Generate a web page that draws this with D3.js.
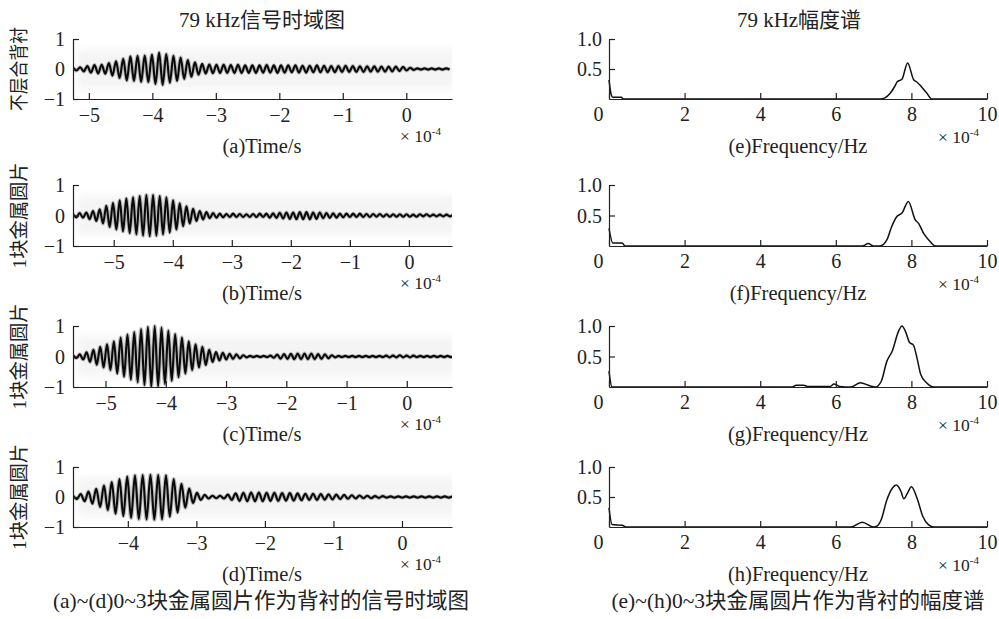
<!DOCTYPE html>
<html>
<head>
<meta charset="utf-8">
<script src="https://cdnjs.cloudflare.com/ajax/libs/d3/7.8.5/d3.min.js"></script>
<style>
  body { margin: 0; background: #fff; }
  svg text { font-family: "Liberation Serif", "Times New Roman", "Noto Sans CJK SC", serif; fill: #222; }
</style>
</head>
<body>
<div id="chart"></div>
<script>
// ---- data ----
// time signals: magnitude of each successive half-cycle extremum, in volts (normalised)
const halfStep = 0.0565 // spacing of extrema, in 1e-4 s

const startA = -5.25
const peaksA = [
  0.04, 0.05, 0.06, 0.08, 0.1, 0.12, 0.13, 0.15, 0.14, 0.16,
  0.2, 0.22, 0.26, 0.3, 0.34, 0.38, 0.42, 0.4, 0.44, 0.43,
  0.45, 0.44, 0.48, 0.5, 0.55, 0.53, 0.5, 0.46, 0.44, 0.4,
  0.38, 0.33, 0.3, 0.26, 0.22, 0.19, 0.17, 0.15, 0.15, 0.14,
  0.14, 0.13, 0.14, 0.13, 0.13, 0.13, 0.14, 0.13, 0.12, 0.13,
  0.12, 0.13, 0.12, 0.12, 0.13, 0.12, 0.12, 0.13, 0.12, 0.12,
  0.12, 0.11, 0.12, 0.12, 0.11, 0.12, 0.11, 0.11, 0.12, 0.11,
  0.11, 0.11, 0.1, 0.11, 0.1, 0.1, 0.11, 0.1, 0.1, 0.1,
  0.09, 0.1, 0.09, 0.09, 0.09, 0.09, 0.08, 0.09, 0.08, 0.08,
  0.08, 0.07, 0.07, 0.05, 0.04, 0.03, 0.02, 0.02, 0.02, 0.02,
  0.02, 0.02, 0.02, 0.02, 0.02, 0.02
]

const startB = -5.69
const peaksB = [
  0.05, 0.06, 0.08, 0.07, 0.1, 0.12, 0.15, 0.18, 0.2, 0.26,
  0.32, 0.38, 0.42, 0.46, 0.5, 0.52, 0.56, 0.58, 0.6, 0.62,
  0.64, 0.66, 0.67, 0.68, 0.67, 0.66, 0.64, 0.62, 0.6, 0.56,
  0.5, 0.46, 0.4, 0.35, 0.3, 0.26, 0.22, 0.18, 0.15, 0.13,
  0.11, 0.09, 0.08, 0.07, 0.06, 0.06, 0.05, 0.05, 0.06, 0.05,
  0.05, 0.05, 0.04, 0.05, 0.05, 0.05, 0.06, 0.05, 0.06, 0.07,
  0.07, 0.08, 0.09, 0.1, 0.1, 0.11, 0.1, 0.12, 0.11, 0.12,
  0.11, 0.12, 0.1, 0.11, 0.1, 0.09, 0.08, 0.08, 0.07, 0.07,
  0.06, 0.06, 0.06, 0.05, 0.06, 0.05, 0.06, 0.05, 0.05, 0.05,
  0.05, 0.04, 0.05, 0.04, 0.04, 0.04, 0.04, 0.04, 0.04, 0.04,
  0.04, 0.04, 0.03, 0.04, 0.04, 0.03, 0.04, 0.03, 0.03, 0.03,
  0.03, 0.03, 0.03, 0.03, 0.03
]

const startC = -5.54
const peaksC = [
  0.04, 0.05, 0.07, 0.1, 0.14, 0.18, 0.22, 0.27, 0.32, 0.36,
  0.4, 0.45, 0.5, 0.56, 0.62, 0.66, 0.72, 0.76, 0.8, 0.85,
  0.9, 0.94, 0.97, 0.99, 1.0, 0.98, 0.95, 0.9, 0.85, 0.8,
  0.74, 0.68, 0.62, 0.56, 0.5, 0.45, 0.4, 0.36, 0.32, 0.28,
  0.22, 0.18, 0.15, 0.13, 0.12, 0.1, 0.09, 0.08, 0.07, 0.06,
  0.04, 0.03, 0.02, 0.02, 0.02, 0.02, 0.02, 0.02, 0.03, 0.04,
  0.06, 0.07, 0.08, 0.08, 0.09, 0.09, 0.1, 0.09, 0.1, 0.09,
  0.1, 0.09, 0.08, 0.08, 0.07, 0.06, 0.04, 0.03, 0.02, 0.02,
  0.02, 0.02, 0.02, 0.02, 0.02, 0.02, 0.02, 0.02, 0.02, 0.02,
  0.02, 0.02, 0.03, 0.03, 0.03, 0.03, 0.04, 0.03, 0.03, 0.03,
  0.03, 0.02, 0.02, 0.02, 0.02, 0.02, 0.02, 0.02, 0.02, 0.02,
  0.02, 0.02, 0.02
]

const startD = -4.8
const peaksD = [
  0.05, 0.07, 0.1, 0.14, 0.18, 0.22, 0.27, 0.33, 0.38, 0.44,
  0.5, 0.56, 0.6, 0.64, 0.68, 0.7, 0.72, 0.74, 0.73, 0.75,
  0.74, 0.76, 0.73, 0.75, 0.72, 0.66, 0.6, 0.52, 0.44, 0.36,
  0.28, 0.2, 0.14, 0.1, 0.07, 0.05, 0.04, 0.04, 0.04, 0.05,
  0.08, 0.1, 0.12, 0.13, 0.14, 0.14, 0.15, 0.14, 0.15, 0.14,
  0.14, 0.13, 0.14, 0.13, 0.13, 0.12, 0.13, 0.12, 0.12, 0.11,
  0.11, 0.1, 0.11, 0.1, 0.1, 0.09, 0.09, 0.08, 0.08, 0.07,
  0.07, 0.06, 0.06, 0.05, 0.05, 0.04, 0.04, 0.04, 0.03, 0.03,
  0.03, 0.02, 0.02, 0.02, 0.02, 0.02, 0.02, 0.02, 0.02, 0.02,
  0.02, 0.02, 0.02, 0.02, 0.02, 0.02, 0.02, 0.02, 0.02
]

// amplitude spectra
const freqE = [0, 0.06, 0.1, 0.33, 0.37, 7.17, 7.3, 7.44, 7.55, 7.63, 7.75, 7.9, 8.06, 8.15, 8.23, 8.41, 8.54, 10]
const ampE = [0.32, 0.07, 0.03, 0.03, 0, 0, 0.02, 0.095, 0.2, 0.29, 0.33, 0.6, 0.32, 0.28, 0.23, 0.095, 0, 0]

const freqF = [0, 0.1, 0.35, 0.42, 6.7, 6.86, 7.0, 7.17, 7.35, 7.48, 7.61, 7.75, 7.92, 8.1, 8.19, 8.32, 8.5, 8.63, 10]
const ampF = [0.29, 0.05, 0.05, 0, 0, 0.04, 0, 0, 0.1, 0.32, 0.48, 0.54, 0.73, 0.43, 0.37, 0.21, 0.07, 0, 0]

const freqG = [0, 0.08, 4.85, 4.95, 5.15, 5.25, 5.85, 5.95, 6.1, 6.4, 6.65, 6.9, 7.05, 7.2, 7.35, 7.5, 7.65, 7.75, 7.85, 7.95, 8.05, 8.15, 8.25, 8.4, 8.6, 10]
const ampG = [0.26, 0, 0, 0.03, 0.03, 0.01, 0.01, 0.05, 0.01, 0, 0.07, 0.02, 0, 0.09, 0.42, 0.6, 0.9, 1.0, 0.9, 0.73, 0.69, 0.47, 0.2, 0.07, 0, 0]

const freqH = [0, 0.08, 0.35, 0.45, 6.4, 6.7, 7.0, 7.1, 7.2, 7.35, 7.5, 7.6, 7.72, 7.8, 7.9, 8.0, 8.15, 8.3, 8.45, 8.6, 10]
const ampH = [0.32, 0.04, 0.03, 0, 0, 0.08, 0, 0.02, 0.12, 0.45, 0.65, 0.7, 0.6, 0.47, 0.57, 0.67, 0.48, 0.18, 0.04, 0, 0]

// labels
const rowLabels = ['不层合背衬', '1块金属圆片', '1块金属圆片', '1块金属圆片']
const timeLabels = ['(a)Time/s', '(b)Time/s', '(c)Time/s', '(d)Time/s']
const freqLabels = ['(e)Frequency/Hz', '(f)Frequency/Hz', '(g)Frequency/Hz', '(h)Frequency/Hz']
const timeDomains = [[-5.25, 0.72], [-5.69, 0.73], [-5.54, 0.75], [-4.8, 0.73]]
const timeTicks = [[-5, -4, -3, -2, -1, 0], [-5, -4, -3, -2, -1, 0], [-5, -4, -3, -2, -1, 0], [-4, -3, -2, -1, 0]]
const freqTicks = [0, 2, 4, 6, 8, 10]

// ---- layout ----
const width = 999
const height = 619
const leftX = [73, 452]
const rightX = [609, 987]
const rowTop = [39, 185, 326, 467]
const rowBottom = [99, 246, 387, 527]

const svg = d3
  .select('#chart')
  .append('svg')
  .attr('width', width)
  .attr('height', height)

const defs = svg.append('defs')
defs
  .append('filter')
  .attr('id', 'soft')
  .attr('x', '-10%')
  .attr('y', '-50%')
  .attr('width', '120%')
  .attr('height', '200%')
  .append('feGaussianBlur')
  .attr('stdDeviation', 4)

const fmtMinus = d => (d < 0 ? '\u2212' + Math.abs(d) : String(d))

function drawTimePanel(i, start, peaks) {
  const top = rowTop[i]
  const bottom = rowBottom[i]
  const x = d3.scaleLinear().domain(timeDomains[i]).range(leftX)
  const y = d3.scaleLinear().domain([-1, 1]).range([bottom, top])

  defs
    .append('clipPath')
    .attr('id', 'clipT' + i)
    .append('rect')
    .attr('x', leftX[0])
    .attr('y', top - 4)
    .attr('width', leftX[1] - leftX[0])
    .attr('height', bottom - top + 4)

  const g = svg.append('g').attr('clip-path', 'url(#clipT' + i + ')')

  // faint scan smudge behind the trace
  g.append('rect')
    .attr('x', leftX[0] + 4)
    .attr('width', leftX[1] - leftX[0])
    .attr('y', y(0.65))
    .attr('height', y(-0.65) - y(0.65))
    .attr('fill', '#f4f4f4')
    .attr('filter', 'url(#soft)')

  const pts = peaks.map((a, k) => [start + k * halfStep, k % 2 === 0 ? a : -a])
  const line = d3
    .line()
    .x(d => x(d[0]))
    .y(d => y(d[1]))
    .curve(d3.curveMonotoneX)

  g.append('path')
    .datum(pts)
    .attr('d', line)
    .attr('fill', 'none')
    .attr('stroke', '#666')
    .attr('stroke-width', 4)
    .attr('stroke-opacity', 0.4)

  g.append('path')
    .datum(pts)
    .attr('d', line)
    .attr('fill', 'none')
    .attr('stroke', '#0a0a0a')
    .attr('stroke-width', 2.1)

  // axes
  const xAxis = d3.axisBottom(x).tickValues(timeTicks[i]).tickSizeInner(-6).tickSizeOuter(0).tickFormat(fmtMinus)
  svg
    .append('g')
    .attr('class', 'axis')
    .attr('transform', 'translate(0,' + bottom + ')')
    .call(xAxis)
    .call(ax => ax.selectAll('.tick text').attr('y', 23).attr('dy', null))

  const yAxis = d3.axisLeft(y).tickValues([-1, 0, 1]).tickSizeInner(-6).tickSizeOuter(0).tickFormat(fmtMinus)
  svg
    .append('g')
    .attr('class', 'axis')
    .attr('transform', 'translate(' + leftX[0] + ',0)')
    .call(yAxis)
    .call(ax => ax.selectAll('.tick text').attr('x', -8).attr('dy', '0.34em'))

  addExponent(400, bottom + 43)

  svg
    .append('text')
    .attr('x', 262)
    .attr('y', bottom + 54)
    .attr('text-anchor', 'middle')
    .attr('font-size', 20.5)
    .text(timeLabels[i])

  svg
    .append('text')
    .attr('transform', 'translate(26,' + (top + bottom) / 2 + ') rotate(-90)')
    .attr('text-anchor', 'middle')
    .attr('font-size', 19)
    .attr('textLength', i === 0 ? 84 : 106)
    .attr('lengthAdjust', 'spacingAndGlyphs')
    .text(rowLabels[i])
}

function drawFreqPanel(i, freqs, amps) {
  const top = rowTop[i]
  const bottom = rowBottom[i]
  const x = d3.scaleLinear().domain([0, 10]).range(rightX)
  const y = d3.scaleLinear().domain([0, 1]).range([bottom, top])

  const line = d3
    .line()
    .x(d => x(d[0]))
    .y(d => y(d[1]))
    .curve(d3.curveMonotoneX)

  svg
    .append('path')
    .datum(freqs.map((f, k) => [f, amps[k]]))
    .attr('d', line)
    .attr('fill', 'none')
    .attr('stroke', '#111')
    .attr('stroke-width', 1.5)

  const xAxis = d3.axisBottom(x).tickValues(freqTicks).tickSizeInner(-6).tickSizeOuter(0)
  svg
    .append('g')
    .attr('class', 'axis')
    .attr('transform', 'translate(0,' + bottom + ')')
    .call(xAxis)
    .call(ax =>
      ax
        .selectAll('.tick text')
        .attr('y', 22)
        .attr('dy', null)
        .attr('dx', d => (d === 0 ? -11 : 0))
    )

  const yAxis = d3.axisLeft(y).tickValues([0.5, 1]).tickSizeInner(-6).tickSizeOuter(0).tickFormat(d3.format('.1f'))
  svg
    .append('g')
    .attr('class', 'axis')
    .attr('transform', 'translate(' + rightX[0] + ',0)')
    .call(yAxis)
    .call(ax => ax.selectAll('.tick text').attr('x', -7).attr('dy', '0.34em'))

  addExponent(938, bottom + 44)

  svg
    .append('text')
    .attr('x', 798)
    .attr('y', bottom + 54)
    .attr('text-anchor', 'middle')
    .attr('font-size', 20.5)
    .text(freqLabels[i])
}

function addExponent(x0, y0) {
  const t = svg
    .append('text')
    .attr('x', x0)
    .attr('y', y0)
    .attr('font-size', 17.5)
  t.append('tspan').text('\u00d7 10')
  t.append('tspan')
    .attr('dy', -7)
    .attr('font-size', 11)
    .text('-4')
}

drawTimePanel(0, startA, peaksA)
drawTimePanel(1, startB, peaksB)
drawTimePanel(2, startC, peaksC)
drawTimePanel(3, startD, peaksD)

drawFreqPanel(0, freqE, ampE)
drawFreqPanel(1, freqF, ampF)
drawFreqPanel(2, freqG, ampG)
drawFreqPanel(3, freqH, ampH)

// axis styling
svg.selectAll('.axis').attr('font-family', null).attr('font-size', 20)
svg.selectAll('.axis path, .axis line').attr('stroke', '#222').attr('stroke-width', 1.2)

// titles and captions
svg.append('text').attr('x', 262).attr('y', 27).attr('text-anchor', 'middle').attr('font-size', 21).text('79 kHz信号时域图')
svg.append('text').attr('x', 799).attr('y', 27).attr('text-anchor', 'middle').attr('font-size', 21).text('79 kHz幅度谱')
svg.append('text').attr('x', 261).attr('y', 608).attr('text-anchor', 'middle').attr('font-size', 21.5).text('(a)~(d)0~3块金属圆片作为背衬的信号时域图')
svg.append('text').attr('x', 798).attr('y', 608).attr('text-anchor', 'middle').attr('font-size', 21.5).text('(e)~(h)0~3块金属圆片作为背衬的幅度谱')
</script>
</body>
</html>
